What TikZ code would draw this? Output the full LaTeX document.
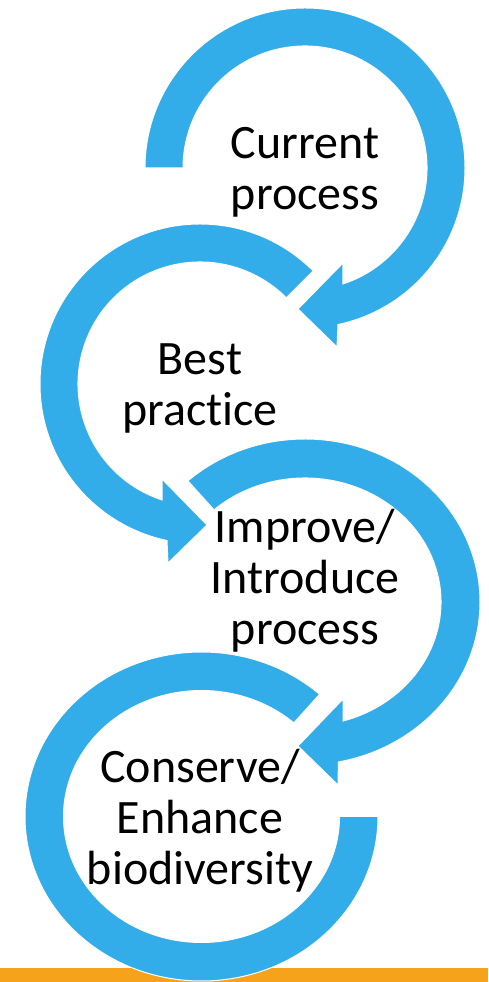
\documentclass[tikz,border=0pt]{standalone}
\usepackage{fontspec}
\setmainfont{Carlito}[Ligatures=NoCommon]
\definecolor{loopblue}{RGB}{51,173,234}
\definecolor{baseorange}{RGB}{247,162,27}
\tikzset{
  loopband/.style={draw=white,fill=loopblue,line width=1pt},
  looptext/.style={align=center,inner sep=0pt,font=\fontsize{48}{51}\selectfont}
}
\begin{document}
\begin{tikzpicture}[x=1pt,y=1pt]
\useasboundingbox (0,0) rectangle (488,982);
\fill[baseorange] (0,0) rectangle (488,14);

\begin{scope}[shift={(305,814)}]
\filldraw[loopband] (180:160pt) arc[start angle=180,end angle=-78.1,radius=160pt] -- (32,-179) -- (-7,-141) -- (38,-95) -- (-71.9:122pt) arc[start angle=-71.9,end angle=180,radius=122pt] -- cycle;
\end{scope}

\begin{scope}[shift={(200,598)}]
\filldraw[loopband] (45:160pt) arc[start angle=45,end angle=258.1,radius=160pt] -- (-32,-179) -- (7,-141) -- (-38,-95) -- (251.9:122pt) arc[start angle=251.9,end angle=45,radius=122pt] -- cycle;
\end{scope}

\begin{scope}[shift={(305,380)}]
\filldraw[loopband] (132:175pt and 163pt) arc[start angle=132,end angle=-79,x radius=175pt,y radius=163pt] -- (33,-183) -- (-7,-144) -- (38,-97) -- (-73.7:136pt and 124pt) arc[start angle=-73.7,end angle=132,x radius=136pt,y radius=124pt] -- cycle;
\end{scope}

\begin{scope}[shift={(201.5,165.5)}]
\filldraw[loopband] (48:176.5pt and 164.5pt) arc[start angle=48,end angle=360,x radius=176.5pt,y radius=164.5pt] -- (0:138pt and 126pt) arc[start angle=360,end angle=48,x radius=138pt,y radius=126pt] -- cycle;
\end{scope}

\node[looptext] (current) at (305,809.5) {Current\\process};
\node[looptext] (best) at (200,593.5) {Best\\practice};
\node[looptext] (improve) at (305,401) {Improve/\\Introduce\\process};
\node[looptext] (conserve) at (200,161) {Conserve/\\Enhance\\biodiversity};
\end{tikzpicture}
\end{document}
